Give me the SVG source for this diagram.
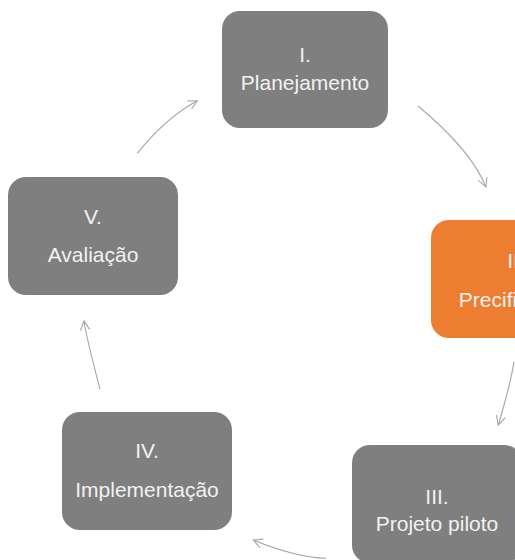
<svg xmlns="http://www.w3.org/2000/svg" width="515" height="560" viewBox="0 0 515 560">
  <defs>
    <style>
      .box { fill: #7f7f7f; }
      .box.accent { fill: #ed7d31; }
      .label { font-family: "Liberation Sans", Arial, sans-serif; font-size: 21px; fill: #f2f2f2; text-anchor: middle; }
      .link { fill: none; stroke: #a6a6a6; stroke-width: 1.1; marker-end: url(#head); }
    </style>
    <marker id="head" viewBox="-10 -6 12 12" markerWidth="12" markerHeight="12" markerUnits="userSpaceOnUse" refX="0" refY="0" orient="auto">
      <path d="M-9,-4.6 L0,0 L-9,4.6" fill="none" stroke="#a6a6a6" stroke-width="1.1"/>
    </marker>
  </defs>
  <rect width="515" height="560" fill="#ffffff"/>

  <!-- cycle connectors -->
  <g id="connectors">
    <path class="link" d="M418,106 Q471,150 486,187"/>
    <path class="link" d="M514,361.7 Q511,382 498.3,425"/>
    <path class="link" d="M326,558.3 Q295,557 253.3,540"/>
    <path class="link" d="M100,389.3 Q85.5,333.6 84,321"/>
    <path class="link" d="M137.3,153.3 Q165.8,117.7 197.3,100.7"/>
  </g>

  <g id="node-planejamento">
    <rect class="box" x="222" y="11" width="166" height="117" rx="18"/>
    <text class="label" x="305" y="62">I.</text>
    <text class="label" x="305" y="90">Planejamento</text>
  </g>

  <g id="node-precificacao">
    <rect class="box accent" x="431" y="220" width="170" height="118" rx="18"/>
    <text class="label" x="516" y="268">II.</text>
    <text class="label" x="516" y="307">Precificação</text>
  </g>

  <g id="node-projeto-piloto">
    <rect class="box" x="352" y="445" width="170" height="118" rx="18"/>
    <text class="label" x="437" y="504">III.</text>
    <text class="label" x="437" y="531">Projeto piloto</text>
  </g>

  <g id="node-implementacao">
    <rect class="box" x="62" y="412" width="170" height="118" rx="18"/>
    <text class="label" x="147" y="458">IV.</text>
    <text class="label" x="147" y="497">Implementação</text>
  </g>

  <g id="node-avaliacao">
    <rect class="box" x="8" y="177" width="170" height="118" rx="18"/>
    <text class="label" x="93" y="224">V.</text>
    <text class="label" x="93" y="262">Avaliação</text>
  </g>
</svg>
